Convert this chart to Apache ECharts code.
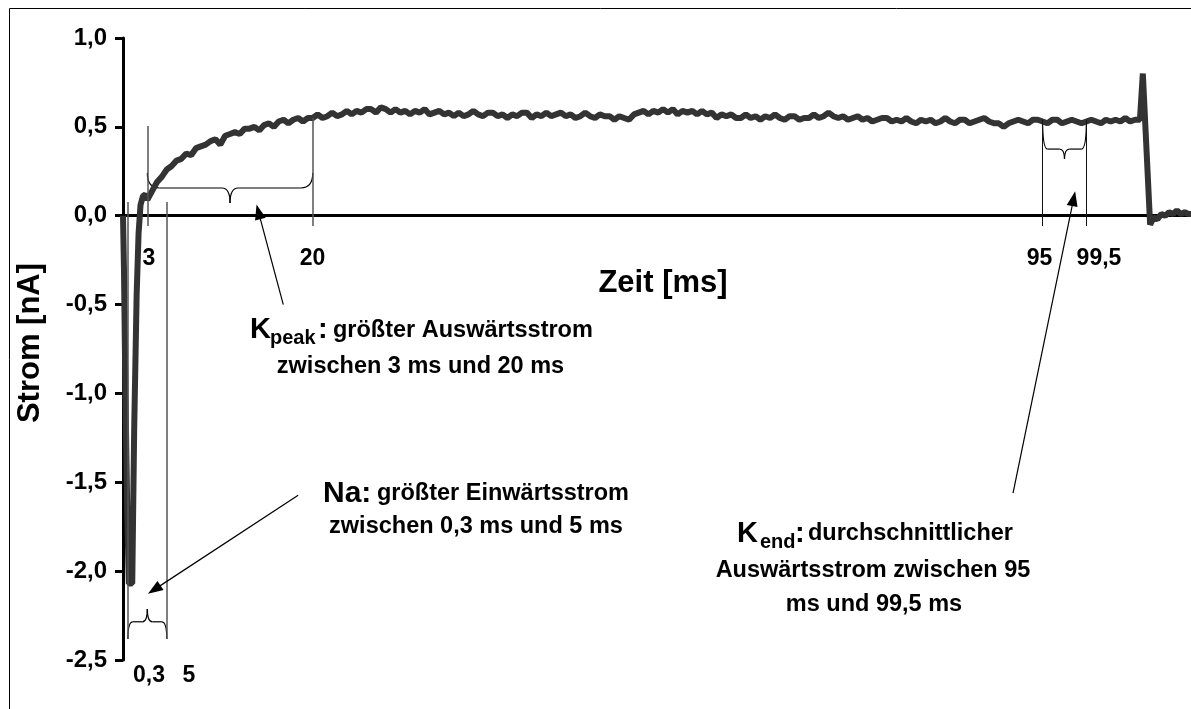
<!DOCTYPE html>
<html>
<head>
<meta charset="utf-8">
<script src="https://cdn.jsdelivr.net/npm/echarts@6/dist/echarts.min.js"></script>
<style>
html, body { margin: 0; padding: 0; background: #fff; }
#chart { width: 1191px; height: 709px; }
</style>
</head>
<body>
<div id="chart"></div>
<script>
// Na transient at the start of the pulse (ms, nA)
const transientT = [0.5, 0.6, 0.75, 0.95, 1.1, 1.45, 1.65, 1.9, 2.1, 2.3, 2.55, 2.8];
const transientI = [0.0, -0.3, -1.0, -1.7, -2.07, -2.07, -1.2, -0.45, -0.1, 0.06, 0.11, 0.12];

// outward current, sampled every 0.5 ms from 3 ms to 105 ms
const steadyStart = 3;
const steadyStep = 0.5;
const steadyI = [
  0.09, 0.14, 0.19, 0.22, 0.26, 0.28, 0.31, 0.32, 0.35, 0.34, 0.38, 0.39, 0.40, 0.42, 0.43, 0.40, 0.45, 0.46, 0.47, 0.46,
  0.49, 0.49, 0.50, 0.48, 0.51, 0.52, 0.50, 0.53, 0.54, 0.52, 0.54, 0.55, 0.53, 0.55, 0.55,
  0.57, 0.55, 0.56, 0.58, 0.56, 0.57, 0.59, 0.57, 0.59, 0.58, 0.60, 0.60, 0.58, 0.61, 0.60, 0.58, 0.60, 0.58, 0.59, 0.57,
  0.59, 0.58, 0.60, 0.57, 0.58, 0.59, 0.57, 0.58, 0.56, 0.58, 0.56, 0.57, 0.59, 0.57, 0.56, 0.58, 0.58, 0.56, 0.57, 0.55,
  0.57, 0.56, 0.58, 0.58, 0.55, 0.57, 0.56, 0.58, 0.56, 0.57, 0.58, 0.56, 0.57, 0.55, 0.56, 0.58, 0.56, 0.55, 0.57, 0.56,
  0.56, 0.54, 0.56, 0.55, 0.54, 0.57, 0.58, 0.59, 0.57, 0.59, 0.58, 0.60, 0.58, 0.60, 0.57, 0.59, 0.58, 0.59, 0.57, 0.59,
  0.57, 0.58, 0.55, 0.57, 0.56, 0.57, 0.55, 0.55, 0.57, 0.55, 0.56, 0.54, 0.56, 0.55, 0.57, 0.55, 0.54, 0.56, 0.56, 0.54,
  0.55, 0.55, 0.57, 0.55, 0.56, 0.58, 0.56, 0.55, 0.56, 0.54, 0.55, 0.56, 0.54, 0.55, 0.53, 0.54, 0.55, 0.55, 0.53, 0.54,
  0.53, 0.55, 0.53, 0.52, 0.54, 0.53, 0.54, 0.52, 0.53, 0.55, 0.53, 0.52, 0.54, 0.54, 0.52, 0.53, 0.54, 0.55, 0.53, 0.52,
  0.52, 0.50, 0.52, 0.53, 0.54, 0.53, 0.52, 0.54, 0.54, 0.53, 0.52, 0.54, 0.54, 0.52, 0.53, 0.54, 0.53, 0.52, 0.53, 0.54,
  0.53, 0.52, 0.54, 0.53, 0.54, 0.53, 0.55, 0.53, 0.54, 0.54
];

// tail current after the pulse
const tailT = [105.3, 106.05, 106.4, 106.8, 107.2, 107.6, 108.0, 108.4, 108.8, 109.2, 109.6, 110.0, 110.25];
const tailI = [0.80, -0.05, -0.01, -0.02, 0.01, 0.0, 0.02, 0.01, 0.03, 0.01, 0.02, 0.01, 0.01];

// measurement windows (ms) as drawn
const naWindow = [1.0, 5];
const kpeakWindow = [3, 20];
const kendWindow = [95, 99.5];

const FONT = '"Liberation Sans", Arial, Helvetica, sans-serif';

const trace = [];
transientT.forEach((t, i) => trace.push([t, transientI[i]]));
steadyI.forEach((v, i) => trace.push([steadyStart + i * steadyStep, v]));
tailT.forEach((t, i) => trace.push([t, tailI[i]]));

const vline = (t, v1, v2, color, width) => [
  { coord: [t, v1], symbol: 'none', lineStyle: { color: color, width: width, type: 'solid' } },
  { coord: [t, v2], symbol: 'none' }
];
const arrow = (from, to) => [
  { coord: from, symbol: 'none', lineStyle: { color: '#000', width: 1.2, type: 'solid' } },
  { coord: to, symbol: 'triangle', symbolSize: [11, 15] }
];

const chart = echarts.init(document.getElementById('chart'));
chart.setOption({
  animation: false,
  backgroundColor: '#fff',
  grid: { left: 123, right: 0, top: 38, bottom: 49 },
  xAxis: {
    type: 'value', min: 0.5, max: 110.25,
    axisLine: { onZero: true, lineStyle: { color: '#000', width: 3 } },
    axisTick: { show: false },
    axisLabel: { show: false },
    splitLine: { show: false }
  },
  yAxis: {
    type: 'value', min: -2.5, max: 1, interval: 0.5,
    axisLine: { show: true, onZero: false, lineStyle: { color: '#000', width: 3 } },
    axisTick: { show: true, length: 8, lineStyle: { color: '#000', width: 3 } },
    axisLabel: {
      margin: 16, color: '#000', fontFamily: FONT, fontWeight: 'bold', fontSize: 24,
      padding: [8, 0, 0, 0],
      formatter: v => v.toFixed(1).replace('.', ',')
    },
    splitLine: { show: false }
  },
  series: [{
    type: 'line',
    data: trace,
    showSymbol: false,
    lineStyle: { color: '#333', width: 6 },
    z: 3,
    markLine: {
      silent: true,
      animation: false,
      label: { show: false },
      emphasis: { disabled: true },
      data: [
        vline(kpeakWindow[0], 0.505, -0.058, '#555', 1.5),
        vline(kpeakWindow[1], 0.548, -0.058, '#555', 1.5),
        vline(kendWindow[0], 0.54, -0.058, '#111', 1),
        vline(kendWindow[1], 0.54, -0.058, '#111', 1),
        vline(naWindow[0], 0.077, -2.382, '#555', 1.5),
        vline(naWindow[1], 0.077, -2.382, '#555', 1.5),
        arrow([16.97, -0.50], [14.42, 0.022]),
        arrow([18.5, -1.573], [3.71, -2.104]),
        arrow([91.96, -1.561], [98.19, 0.096])
      ]
    }
  }]
});

const px = (t, v) => chart.convertToPixel({ gridIndex: 0 }, [t, v]);

// curly brace between t1 and t2: ends at vEnd, bar at vBar, cusp at vTip
function brace(t1, t2, vEnd, vBar, vTip, rEnd, rMid) {
  const [x1, yE] = px(t1, vEnd);
  const x2 = px(t2, vEnd)[0];
  const yH = px(t1, vBar)[1];
  const yT = px(t1, vTip)[1];
  const xm = (x1 + x2) / 2;
  const st = { stroke: '#000', lineWidth: 1.2, fill: null };
  const curve = (a, b, c, d, e, f) => ({ type: 'bezierCurve', shape: { x1: a, y1: b, cpx1: c, cpy1: d, x2: e, y2: f }, style: st, silent: true });
  const line = (a, b, c, d) => ({ type: 'line', shape: { x1: a, y1: b, x2: c, y2: d }, style: st, silent: true });
  return [
    curve(x1, yE, x1, yH, x1 + rEnd, yH),
    line(x1 + rEnd, yH, xm - rMid, yH),
    curve(xm - rMid, yH, xm, yH, xm, yT),
    curve(xm, yT, xm, yH, xm + rMid, yH),
    line(xm + rMid, yH, x2 - rEnd, yH),
    curve(x2 - rEnd, yH, x2, yH, x2, yE)
  ];
}

function txt(x, y, text, size, align, extra) {
  return Object.assign({
    type: 'text', x: x, y: y, silent: true,
    style: {
      text: text, fill: '#000', align: align || 'center', verticalAlign: 'middle',
      font: 'bold ' + size + 'px ' + FONT
    }
  }, extra || {});
}

const elements = [
  { type: 'rect', shape: { x: 9.5, y: 8.5, width: 1200, height: 720 }, style: { fill: null, stroke: '#000', lineWidth: 1 }, silent: true },
  ...brace(kpeakWindow[0], kpeakWindow[1], 0.24, 0.156, 0.071, 12, 8),
  ...brace(naWindow[0], naWindow[1], -2.382, -2.285, -2.213, 5, 5),
  ...brace(kendWindow[0], kendWindow[1], 0.54, 0.375, 0.319, 5, 5),
  txt(149, 259, '3', 23),
  txt(312.5, 259, '20', 23),
  txt(1039.5, 259, '95', 23),
  txt(1099, 259, '99,5', 23),
  txt(149, 676, '0,3', 23),
  txt(189, 676, '5', 23),
  txt(663, 283, 'Zeit [ms]', 31),
  txt(30, 343, 'Strom [nA]', 31, 'center', { rotation: Math.PI / 2 }),
  txt(250, 330, 'K', 29, 'left'),
  txt(270, 338, 'peak', 20, 'left'),
  txt(318, 330, ':', 29, 'left'),
  txt(333, 331, 'größter Auswärtsstrom', 23.5, 'left'),
  txt(420.5, 367, 'zwischen 3 ms und 20 ms', 23.5),
  txt(323, 494, 'Na:', 30, 'left'),
  txt(377, 494, 'größter Einwärtsstrom', 23.5, 'left'),
  txt(476, 527, 'zwischen 0,3 ms und 5 ms', 23.5),
  txt(737, 534, 'K', 29, 'left'),
  txt(760, 542, 'end', 20, 'left'),
  txt(795, 534, ':', 29, 'left'),
  txt(808, 534, 'durchschnittlicher', 23.5, 'left'),
  txt(873, 571, 'Auswärtsstrom zwischen 95', 23.5),
  txt(874, 605, 'ms und 99,5 ms', 23.5)
];

chart.setOption({ graphic: { elements: elements } });
</script>
</body>
</html>
